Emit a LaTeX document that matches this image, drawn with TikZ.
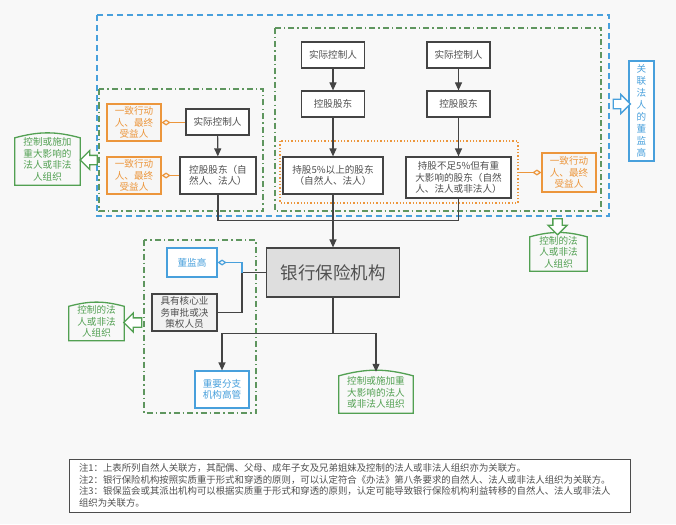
\documentclass[tikz,border=0pt]{standalone}
\usepackage{fontspec}
\setmainfont{Noto Sans CJK SC}
\usetikzlibrary{arrows.meta,positioning,shapes.arrows}
\definecolor{bgGray}{RGB}{248,248,248}
\definecolor{boxLine}{RGB}{68,68,68}
\definecolor{txtGray}{RGB}{80,80,80}
\definecolor{mBlue}{RGB}{72,160,220}
\definecolor{mGreen}{RGB}{82,160,82}
\definecolor{frameGreen}{RGB}{95,150,95}
\definecolor{mOrange}{RGB}{236,150,60}
\definecolor{bankGray}{RGB}{222,222,222}

\begin{document}
\begin{tikzpicture}[x=1pt,y=-1pt,
    box/.style={draw=boxLine, line width=1.2pt, fill=white, text=txtGray, align=center,
      inner sep=1pt, font=\fontsize{9.6}{11.6}\selectfont},
    consbox/.style={box, draw=mOrange, fill=gray!7, text=mOrange, minimum width=54pt, minimum height=37pt},
    bluebox/.style={box, draw=mBlue, text=mBlue},
    infbox/.style={align=center, inner sep=1pt, text=mGreen, font=\fontsize{9.6}{11.6}\selectfont},
    link/.style={draw=boxLine, line width=1.2pt},
    arr/.style={link, -{Triangle[length=8pt,width=7pt]}},
    diam/.style={draw=mOrange, line width=1.2pt, {Diamond[open,length=9pt,width=6pt]}-},
    bigarrow/.style={single arrow, draw=mGreen, line width=1.3pt, fill=white, inner sep=4pt,
      single arrow head extend=5pt},
    bluedash/.style={draw=mBlue, line width=1.2pt, dash pattern=on 6pt off 4pt},
    greendash/.style={draw=frameGreen, line width=1.2pt, dash pattern=on 6pt off 3pt on 1.5pt off 3pt},
  ]
  % page and background
  \useasboundingbox[fill=bgGray] (0,0) rectangle (676,524);

  % frames
  \draw[bluedash] (97,15) rectangle (609,216);
  \draw[greendash] (275,28) rectangle (601,211);
  \draw[greendash] (99,89) rectangle (263,211);
  \draw[mOrange, dotted, line width=1.3pt] (280,141) rectangle (518,203);
  \draw[greendash] (144,240) rectangle (256,413);
  \coordinate (dotE) at (518,0);

  % left shareholder
  \node[box, minimum width=63pt, minimum height=26pt] (ctrlL) at (217.5,122) {实际控制人};
  \node[box, minimum width=76pt, minimum height=37pt] (holdL) at (218,175.5) {控股股东（自\\然人、法人）};
  \node[consbox] (consL1) at (134,122.5) {一致行动\\人、最终\\受益人};
  \node[consbox] (consL2) at (134,175.5) {一致行动\\人、最终\\受益人};
  \node[infbox, minimum width=65pt, minimum height=51pt] (infL) at (47.5,159.5) {控制或施加\\重大影响的\\法人或非法\\人组织};

  % right shareholders
  \node[box, minimum width=63pt, minimum height=26pt] (ctrlA) at (333,55) {实际控制人};
  \node[box, minimum width=63pt, minimum height=26pt] (holdA) at (333,104) {控股股东};
  \node[box, minimum width=100pt, minimum height=37pt] (bigA) at (333,175.5) {持股5\%以上的股东\\（自然人、法人）};
  \node[box, minimum width=63pt, minimum height=26pt] (ctrlB) at (458.5,55) {实际控制人};
  \node[box, minimum width=63pt, minimum height=26pt] (holdB) at (458.5,104) {控股股东};
  \node[box, minimum width=105pt, minimum height=41pt] (bigB) at (458.5,177.5) {持股不足5\%但有重\\大影响的股东（自然\\人、法人或非法人）};
  \node[consbox, minimum height=39pt] (consR) at (569,172.5) {一致行动\\人、最终\\受益人};
  \node[bluebox, minimum width=25pt, minimum height=100pt, font=\fontsize{9.6}{12}\selectfont] (dirR) at (641.5,111)
    {关\\联\\法\\人\\的\\董\\监\\高};
  \node[infbox, minimum width=57pt, minimum height=38pt] (infR) at (558.5,252) {控制的法\\人或非法\\人组织};

  % bank and its staff
  \node[box, fill=bankGray, minimum width=133pt, minimum height=49pt, font=\fontsize{17.5}{20}\selectfont] (bank) at (333,272.5) {银行保险机构};
  \node[bluebox, minimum width=50pt, minimum height=29pt] (dir) at (192,262.5) {董监高};
  \node[box, fill=gray!10, minimum width=65pt, minimum height=37pt] (core) at (184.5,312.5) {具有核心业\\务审批或决\\策权人员};
  \node[bluebox, minimum width=54pt, minimum height=37pt] (branch) at (222,389.5) {重要分支\\机构高管};
  \node[infbox, minimum width=74pt, minimum height=41pt] (infB) at (376,392.5) {控制或施加重\\大影响的法人\\或非法人组织};
  \node[infbox, minimum width=55pt, minimum height=38pt] (ctlBL) at (96.5,321.5) {控制的法\\人或非法\\人组织};

  % green boxes with arched tops
  \foreach \n in {infL,infR,infB,ctlBL}
    \draw[mGreen, line width=1.3pt] (\n.south west) -- ([yshift=-4pt]\n.north west)
      to[bend left=15] ([yshift=-4pt]\n.north east) -- (\n.south east) -- cycle;

  % hollow arrows
  \node[bigarrow, minimum height=17pt, shape border rotate=180] (outL) at (91,160) {};
  \node[bigarrow, draw=mBlue, minimum height=17pt] (outR) at (619.5,104) {};
  \node[bigarrow, minimum height=16pt, shape border rotate=270] (outD) at (557.5,224.5) {};
  \node[bigarrow, minimum height=18pt, shape border rotate=180] (outB) at (135,322.5) {};

  % control chains
  \draw[arr] (ctrlL) -- (holdL);
  \draw[arr] (ctrlA) -- (holdA);
  \draw[arr] (holdA) -- (bigA);
  \draw[arr] (ctrlB) -- (holdB);
  \draw[arr] (holdB) -- (bigB);
  \draw[diam] (consL1.east) -- (consL1.east -| ctrlL.west);
  \draw[diam] (consL2.east) -- (consL2.east -| holdL.west);
  \draw[diam] (consR.west) -- (consR.west -| dotE);

  % into the bank
  \coordinate (mergeY) at (0,220.5);
  \draw[link] (holdL.south) |- (mergeY -| bank.north);
  \draw[link] (bigB.south) |- (mergeY -| bank.north);
  \draw[arr] (bigA.south) -- (bank.north);

  % staff side
  \coordinate (tapL) at (242,0);
  \draw[link] (bank.west) -- (bank.west -| tapL) |- (core.east);
  \draw[draw=mBlue, line width=1.2pt, {Diamond[open,length=9pt,width=6pt]}-] (dir.east) -| (bank.west -| tapL);
  \coordinate (splitY) at (0,333.5);
  \draw[link] (bank.south) -- (bank.south |- splitY);
  \draw[arr] (bank.south |- splitY) -| (branch.north);
  \draw[arr] (bank.south |- splitY) -| (infB.north);

  % notes
  \node[draw=gray!60!black, line width=1pt, fill=white, text=txtGray, align=left, text width=541pt,
    inner xsep=10pt, inner ysep=3pt, minimum height=53pt, font=\fontsize{9.4}{11.7}\selectfont] (notes) at (349.5,485.5)
    {注1：上表所列自然人关联方，其配偶、父母、成年子女及兄弟姐妹及控制的法人或非法人组织亦为关联方。\\
     注2：银行保险机构按照实质重于形式和穿透的原则，可以认定符合《办法》第八条要求的自然人、法人或非法人组织为关联方。\\
     注3：银保监会或其派出机构可以根据实质重于形式和穿透的原则，认定可能导致银行保险机构利益转移的自然人、法人或非法人\\
     组织为关联方。};
\end{tikzpicture}
\end{document}
